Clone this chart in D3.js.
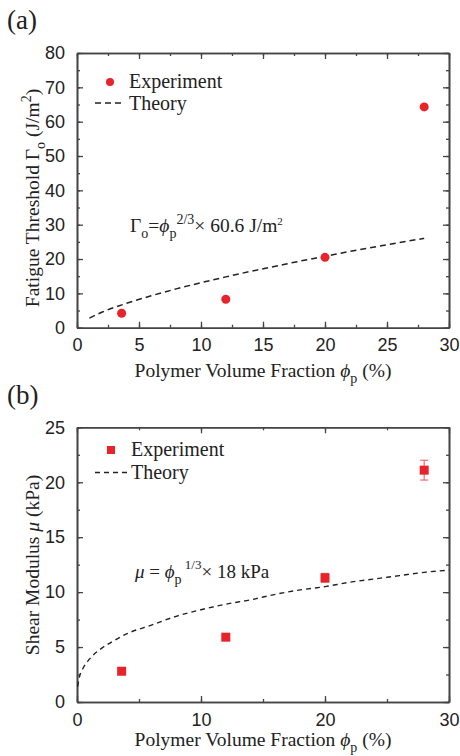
<!DOCTYPE html>
<html><head><meta charset="utf-8">
<script src="https://cdn.jsdelivr.net/npm/d3@7/dist/d3.min.js"></script>
<style>body{margin:0;background:#fff}svg{display:block}</style>
</head><body>
<svg id="c" width="460" height="756"></svg>
<script>
// ---- data ----
const fatigueX = [3.6, 12, 20, 28];
const fatigueY = [4.2, 8.3, 20.5, 64.3];
const fatigueTheoryX = [1, 2, 4, 6, 8, 10, 12, 14, 16, 18, 20, 22, 24, 26, 28];
const fatigueTheoryY = [2.8, 4.5, 7.1, 9.3, 11.3, 13.1, 14.8, 16.4, 17.9, 19.4, 20.8, 22.2, 23.5, 24.8, 26.0];
const modulusX = [3.6, 12, 20, 28];
const modulusY = [2.8, 5.9, 11.3, 21.1];
const modulusErr = [0.25, 0.1, 0.4, 0.9];
const modulusTheoryX = [0.05, 0.2, 0.5, 1, 2, 3, 4, 6, 8, 10, 12, 14, 16, 18, 20, 22, 24, 26, 28, 30];
const modulusTheoryY = [1.4, 2.3, 3.1, 3.9, 4.9, 5.6, 6.2, 7.0, 7.8, 8.4, 8.9, 9.3, 9.8, 10.2, 10.5, 10.9, 11.2, 11.5, 11.8, 12.0];
const topXTicks = [0, 5, 10, 15, 20, 25, 30];
const topYTicks = [0, 10, 20, 30, 40, 50, 60, 70, 80];
const botXTicks = [0, 10, 20, 30];
const botYTicks = [0, 5, 10, 15, 20, 25];

const svg = d3.select("#c");
const SERIF = "'Liberation Serif', 'DejaVu Serif', serif";
const SANS = "'Liberation Sans', Arial, sans-serif";
const RED = "#e8232a";
const AX = "#444";

function panel(o) {
  const x = d3.scaleLinear().domain(o.xd).range([77, 449]);
  const y = d3.scaleLinear().domain(o.yd).range([o.y0, o.y1]);
  const g = svg.append("g");
  const mk = (axis, tr, labels) => {
    const a = g.append("g").attr("transform", tr).call(axis);
    a.select(".domain").attr("stroke", AX).attr("stroke-width", 1.6);
    a.selectAll(".tick line").attr("stroke", AX).attr("stroke-width", 1.3);
    a.selectAll("text").attr("font-family", SANS).attr("font-size", 18).attr("fill", "#222");
    if (!labels) a.selectAll("text").remove();
    return a;
  };
  const xMinor = d3.range(o.xd[0], o.xd[1] + 0.001, o.xminor);
  const yMinor = d3.range(o.yd[0], o.yd[1] + 0.001, o.yminor);
  mk(d3.axisBottom(x).tickValues(xMinor).tickSize(-3).tickSizeOuter(0).tickFormat(""), `translate(0,${o.y0})`, false);
  mk(d3.axisTop(x).tickValues(xMinor).tickSize(-3).tickSizeOuter(0).tickFormat(""), `translate(0,${o.y1})`, false);
  mk(d3.axisLeft(y).tickValues(yMinor).tickSize(-3).tickSizeOuter(0).tickFormat(""), `translate(77,0)`, false);
  mk(d3.axisRight(y).tickValues(yMinor).tickSize(-3).tickSizeOuter(0).tickFormat(""), `translate(449,0)`, false);
  mk(d3.axisBottom(x).tickValues(o.xt).tickSize(-6).tickSizeOuter(0).tickPadding(11), `translate(0,${o.y0})`, true);
  mk(d3.axisTop(x).tickValues(o.xt).tickSize(-6).tickSizeOuter(0), `translate(0,${o.y1})`, false);
  mk(d3.axisLeft(y).tickValues(o.yt).tickSize(-6).tickSizeOuter(0).tickPadding(12), `translate(77,0)`, true);
  mk(d3.axisRight(y).tickValues(o.yt).tickSize(-6).tickSizeOuter(0), `translate(449,0)`, false);
  return {x, y, g};
}

// ---------- Panel (a) ----------
const A = panel({xd: [0, 30], yd: [0, 80], y0: 327.7, y1: 53, xt: topXTicks, yt: topYTicks, xminor: 2.5, yminor: 5});
const lineA = d3.line().x((d, i) => A.x(fatigueTheoryX[i])).y(d => A.y(d)).curve(d3.curveMonotoneX);
A.g.append("path").attr("d", lineA(fatigueTheoryY)).attr("fill", "none")
  .attr("stroke", "#222").attr("stroke-width", 1.5).attr("stroke-dasharray", "6,4");
A.g.selectAll("circle.pt").data(fatigueY).join("circle").attr("class", "pt")
  .attr("cx", (d, i) => A.x(fatigueX[i])).attr("cy", d => A.y(d)).attr("r", 4.5).attr("fill", RED);

// ---------- Panel (b) ----------
const B = panel({xd: [0, 30], yd: [0, 25], y0: 702, y1: 427.3, xt: botXTicks, yt: botYTicks, xminor: 5, yminor: 2.5});
const lineB = d3.line().x((d, i) => B.x(modulusTheoryX[i])).y(d => B.y(d)).curve(d3.curveMonotoneX);
B.g.append("path").attr("d", lineB(modulusTheoryY)).attr("fill", "none")
  .attr("stroke", "#222").attr("stroke-width", 1.4).attr("stroke-dasharray", "5,4");
const eb = B.g.selectAll("g.eb").data(modulusY).join("g").attr("class", "eb");
eb.append("line").attr("x1", (d, i) => B.x(modulusX[i])).attr("x2", (d, i) => B.x(modulusX[i]))
  .attr("y1", (d, i) => B.y(d - modulusErr[i])).attr("y2", (d, i) => B.y(d + modulusErr[i]))
  .attr("stroke", "#f06a6e").attr("stroke-width", 1.2);
[-1, 1].forEach(s => {
  eb.append("line").attr("x1", (d, i) => B.x(modulusX[i]) - 4).attr("x2", (d, i) => B.x(modulusX[i]) + 4)
    .attr("y1", (d, i) => B.y(d + s * modulusErr[i])).attr("y2", (d, i) => B.y(d + s * modulusErr[i]))
    .attr("stroke", "#f06a6e").attr("stroke-width", 1.2);
});
eb.append("rect").attr("x", (d, i) => B.x(modulusX[i]) - 4.5).attr("y", d => B.y(d) - 4.5)
  .attr("width", 9).attr("height", 9).attr("fill", RED);

// ---------- Text ----------
function txt(x, y, size, parts, anchor, rot) {
  const t = svg.append("text").attr("font-family", SERIF).attr("font-size", size).attr("fill", "#222")
    .attr("text-anchor", anchor || "start");
  if (rot) t.attr("transform", `translate(${x},${y}) rotate(${rot})`);
  else t.attr("x", x).attr("y", y);
  let shift = 0;
  parts.forEach(p => {
    const s = t.append("tspan").text(p.t);
    const target = p.dy || 0;
    s.attr("dy", target - shift); shift = target;
    if (p.size) s.attr("font-size", p.size);
    if (p.it) s.attr("font-style", "italic");
  });
  return t;
}

txt(7, 29, 27, [{t: "(a)"}]);
txt(7, 404, 27, [{t: "(b)"}]);

// legends
svg.append("circle").attr("cx", 110).attr("cy", 82).attr("r", 4).attr("fill", RED);
txt(129, 88, 20, [{t: "Experiment"}]);
svg.append("line").attr("x1", 95).attr("x2", 124).attr("y1", 103).attr("y2", 103)
  .attr("stroke", "#222").attr("stroke-width", 1.4).attr("stroke-dasharray", "6,4");
txt(129, 110, 20, [{t: "Theory"}]);

svg.append("rect").attr("x", 107).attr("y", 446).attr("width", 8).attr("height", 8).attr("fill", RED);
txt(131, 456, 20, [{t: "Experiment"}]);
svg.append("line").attr("x1", 95).attr("x2", 127).attr("y1", 472.5).attr("y2", 472.5)
  .attr("stroke", "#222").attr("stroke-width", 1.3).attr("stroke-dasharray", "5,4");
txt(131, 479, 20, [{t: "Theory"}]);

// annotations
txt(130, 232, 19.5, [{t: "Γ"}, {t: "o", size: 14, dy: 6}, {t: "=", dy: 0}, {t: "ϕ", it: true}, {t: "p", size: 14, dy: 6},
  {t: "2/3", size: 14, dy: -8}, {t: "× 60.6 J/m", dy: 0}, {t: "2", size: 11, dy: -7}]);
txt(135, 578, 19, [{t: "μ", it: true}, {t: " = "}, {t: "ϕ", it: true}, {t: "p", size: 14, dy: 6},
  {t: " 1/3", size: 13, dy: -9}, {t: "× 18 kPa", dy: 0}]);

// axis titles
txt(263, 377, 19.5, [{t: "Polymer Volume Fraction "}, {t: "ϕ", it: true}, {t: "p", size: 14, dy: 6}, {t: " (%)", dy: 0}], "middle");
txt(263, 746, 19.5, [{t: "Polymer Volume Fraction "}, {t: "ϕ", it: true}, {t: "p", size: 14, dy: 6}, {t: " (%)", dy: 0}], "middle");
txt(39, 198, 19.5, [{t: "Fatigue Threshold Γ"}, {t: "o", size: 14, dy: 6}, {t: " (J/m", dy: 0}, {t: "2", size: 14, dy: -8}, {t: ")", dy: 0}], "middle", -90);
txt(39, 565, 19.5, [{t: "Shear Modulus "}, {t: "μ", it: true}, {t: " (kPa)"}], "middle", -90);
</script>
</body></html>
